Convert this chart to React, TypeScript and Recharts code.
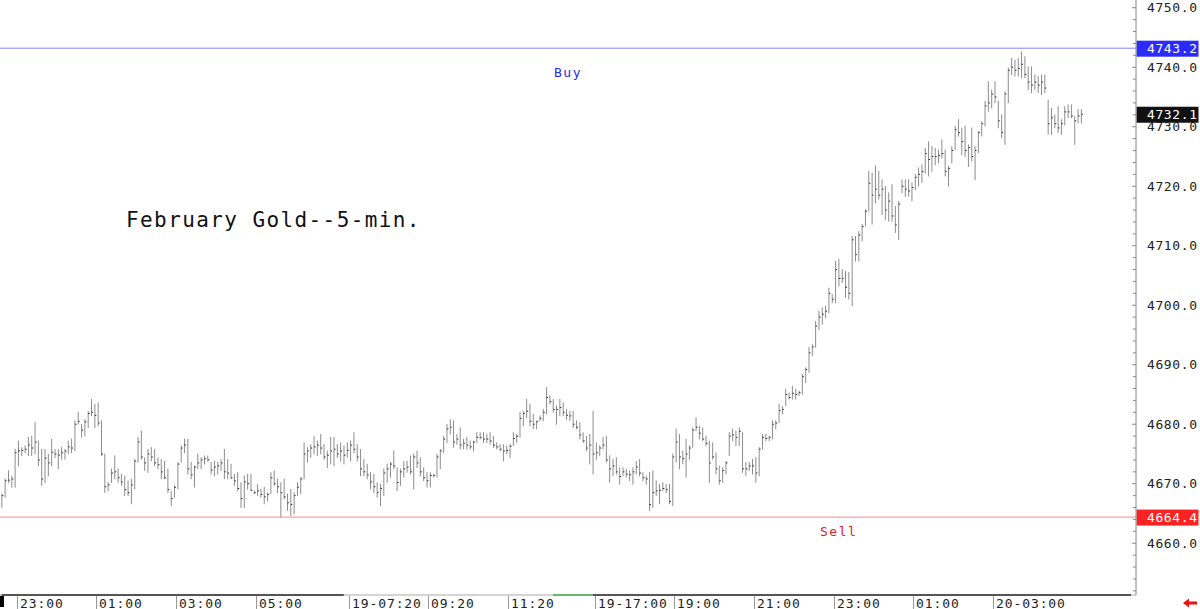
import React from 'react';
import { ComposedChart, Bar, XAxis, YAxis, ReferenceLine } from 'recharts';

// ---- data (5-minute bars) ----
const highs: number[] = [
  4668.3, 4670.8, 4672.2, 4671.3, 4675.8, 4677.2, 4676.1, 4676.4, 4677.8, 4678.0,
  4680.3, 4677.2, 4675.8, 4675.8, 4675.0, 4677.5, 4675.8, 4675.8, 4676.1, 4675.8,
  4677.2, 4677.5, 4680.6, 4682.0, 4680.0, 4680.8, 4682.2, 4684.2, 4683.4, 4683.6,
  4680.6, 4675.0, 4670.2, 4672.5, 4674.7, 4672.5, 4671.6, 4671.3, 4670.5, 4670.8,
  4674.1, 4677.8, 4678.9, 4674.4, 4675.8, 4676.1, 4675.8, 4674.4, 4674.1, 4673.8,
  4672.5, 4668.8, 4669.7, 4673.6, 4676.4, 4677.5, 4677.5, 4673.6, 4673.0, 4675.0,
  4674.4, 4674.7, 4674.7, 4673.6, 4673.8, 4673.6, 4674.1, 4675.8, 4674.1, 4673.3,
  4671.6, 4671.9, 4670.2, 4671.3, 4671.6, 4671.6, 4668.8, 4669.9, 4669.1, 4669.4,
  4668.5,
  4671.9, 4672.2, 4670.8, 4670.2, 4670.8, 4668.3, 4669.1, 4668.5, 4670.2, 4671.1,
  4676.9, 4676.1, 4676.6, 4678.0, 4677.2, 4678.3, 4676.6, 4675.5, 4677.8, 4677.8,
  4676.6, 4676.9, 4676.4, 4676.9, 4677.2, 4678.6, 4676.6, 4675.8, 4674.1, 4673.3,
  4671.9, 4671.6, 4670.2, 4669.9, 4672.5, 4673.3, 4673.6, 4675.5, 4672.7, 4672.5,
  4673.8, 4673.8, 4674.7, 4675.0, 4675.5, 4674.4, 4672.7, 4671.9, 4671.9, 4671.6,
  4675.0, 4675.8, 4678.0, 4680.0, 4680.8, 4680.6, 4678.3, 4679.4, 4677.5, 4677.8,
  4677.2, 4677.2, 4678.6, 4678.6, 4678.6, 4678.3, 4678.6, 4678.0, 4676.9, 4676.6,
  4676.6, 4676.4, 4676.6, 4678.6, 4678.3, 4682.0, 4682.2, 4684.2, 4683.4, 4681.7,
  4680.6, 4681.4, 4682.5,
  4686.2, 4684.8, 4684.2, 4683.1, 4684.2, 4683.6, 4682.5, 4682.2, 4682.2, 4680.6,
  4680.3, 4678.6, 4678.0, 4678.3, 4682.2, 4676.9, 4676.4, 4677.8, 4678.0, 4674.7,
  4674.1, 4674.4, 4672.7, 4672.7, 4672.5, 4672.2, 4672.7, 4673.8, 4674.1, 4671.9,
  4671.3, 4671.9, 4672.2, 4670.5, 4669.9, 4670.2, 4669.9, 4669.9, 4675.0, 4679.2,
  4678.3, 4675.5, 4677.5, 4676.4, 4679.4, 4681.1, 4679.7, 4679.4, 4678.0, 4677.2,
  4676.9, 4675.2, 4673.0, 4672.7, 4673.8, 4678.6, 4679.2, 4678.9, 4679.4, 4678.6,
  4673.6, 4673.6, 4674.1, 4674.4, 4676.1, 4678.3, 4678.3, 4678.0, 4680.6, 4680.6,
  4683.4, 4683.0, 4685.9, 4685.3, 4686.4, 4685.9, 4685.6, 4688.4, 4689.5, 4692.9,
  4693.4, 4697.3,
  4699.0, 4699.6, 4699.9, 4702.9, 4701.8, 4707.4, 4707.7, 4706.0, 4705.7, 4705.5,
  4711.6, 4711.6, 4712.4, 4713.6, 4716.1, 4722.5, 4722.2, 4723.4, 4722.5, 4721.1,
  4720.0, 4718.9, 4720.3, 4716.6, 4717.5, 4721.1, 4721.1, 4721.1, 4720.6, 4722.0,
  4723.1, 4723.6, 4726.4, 4727.5, 4726.7, 4726.4, 4726.1, 4727.8, 4726.1, 4723.4,
  4726.7, 4730.1, 4731.2, 4729.8, 4730.1, 4727.0, 4729.8, 4726.7, 4729.2, 4730.9,
  4734.3, 4737.6, 4736.2, 4737.6, 4734.3, 4732.0, 4735.9, 4739.9, 4741.5, 4741.2,
  4741.5, 4742.6, 4741.8, 4740.1, 4740.1, 4738.7, 4738.5, 4738.7, 4738.7, 4734.5,
  4733.1, 4732.0, 4733.4, 4731.2, 4733.4, 4733.7, 4733.7, 4731.7, 4732.9, 4732.9,
];

const lows: number[] = [
  4666.0, 4667.7, 4670.2, 4669.4, 4669.4, 4673.0, 4674.7, 4675.2, 4674.7, 4674.7,
  4675.0, 4673.0, 4669.7, 4670.2, 4671.3, 4673.0, 4674.4, 4672.5, 4674.1, 4674.1,
  4675.0, 4675.2, 4675.5, 4680.0, 4677.8, 4678.0, 4679.4, 4681.4, 4679.4, 4679.7,
  4674.7, 4668.5, 4668.8, 4670.2, 4670.8, 4670.2, 4669.7, 4668.0, 4668.0, 4666.6,
  4669.1, 4673.6, 4674.1, 4672.2, 4671.9, 4673.8, 4673.0, 4672.5, 4670.8, 4670.8,
  4668.5, 4666.3, 4667.7, 4669.1, 4673.6, 4675.2, 4671.6, 4670.8, 4669.4, 4672.5,
  4672.5, 4673.3, 4673.8, 4671.6, 4671.3, 4671.6, 4672.2, 4670.8, 4670.8, 4670.8,
  4669.7, 4668.8, 4666.0, 4666.0, 4669.1, 4668.8, 4668.3, 4668.0, 4667.7, 4666.6,
  4667.1,
  4668.3, 4669.7, 4668.5, 4664.3, 4667.4, 4665.5, 4664.6, 4664.9, 4668.0, 4668.3,
  4670.8, 4673.6, 4674.4, 4675.0, 4674.7, 4675.0, 4674.1, 4672.7, 4673.3, 4673.0,
  4674.4, 4673.8, 4673.3, 4674.4, 4673.8, 4675.2, 4673.8, 4671.3, 4671.3, 4670.8,
  4669.1, 4668.5, 4667.7, 4666.3, 4668.0, 4670.2, 4671.1, 4672.5, 4668.8, 4669.7,
  4671.1, 4671.9, 4671.6, 4669.1, 4672.7, 4671.3, 4670.5, 4669.4, 4669.4, 4671.1,
  4671.1, 4672.5, 4675.2, 4676.9, 4678.3, 4676.1, 4676.6, 4675.8, 4675.8, 4675.8,
  4675.8, 4675.5, 4676.9, 4677.5, 4676.9, 4676.9, 4676.6, 4676.1, 4675.8, 4675.5,
  4673.8, 4675.0, 4674.4, 4676.4, 4676.9, 4677.8, 4679.7, 4681.1, 4679.7, 4679.2,
  4679.2, 4680.6, 4680.6,
  4681.7, 4683.4, 4682.0, 4680.0, 4681.4, 4681.4, 4680.8, 4680.6, 4679.4, 4679.2,
  4677.5, 4676.9, 4675.5, 4673.3, 4671.6, 4674.1, 4674.7, 4675.8, 4673.6, 4670.2,
  4671.3, 4671.6, 4669.9, 4671.3, 4671.1, 4670.5, 4669.9, 4671.6, 4671.3, 4670.5,
  4669.9, 4665.5, 4666.0, 4668.0, 4666.6, 4668.8, 4668.5, 4666.6, 4666.3, 4673.6,
  4672.5, 4673.3, 4671.1, 4674.1, 4676.1, 4678.9, 4677.5, 4677.2, 4676.4, 4670.2,
  4674.1, 4671.6, 4669.9, 4670.2, 4671.6, 4674.7, 4677.2, 4676.4, 4676.4, 4671.9,
  4671.3, 4672.2, 4671.6, 4670.2, 4671.3, 4675.8, 4677.2, 4677.2, 4677.5, 4679.2,
  4680.3, 4681.7, 4683.1, 4684.2, 4684.2, 4684.2, 4684.8, 4685.0, 4687.0, 4688.7,
  4691.5, 4692.9,
  4695.9, 4696.8, 4697.9, 4698.7, 4700.4, 4700.4, 4703.2, 4703.8, 4701.3, 4701.0,
  4699.9, 4707.4, 4707.4, 4710.8, 4713.3, 4715.8, 4713.6, 4717.2, 4717.8, 4715.2,
  4714.4, 4714.1, 4714.1, 4712.2, 4711.0, 4718.9, 4718.3, 4718.3, 4717.5, 4719.4,
  4720.0, 4720.6, 4722.2, 4721.7, 4722.5, 4723.6, 4723.9, 4724.7, 4721.7, 4720.0,
  4723.9, 4726.1, 4728.4, 4725.3, 4725.0, 4723.3, 4724.2, 4721.1, 4725.6, 4728.4,
  4730.1, 4732.6, 4733.1, 4734.0, 4729.8, 4728.1, 4727.0, 4734.0, 4738.7, 4738.5,
  4738.5, 4738.2, 4738.2, 4736.2, 4735.7, 4736.2, 4735.7, 4735.4, 4735.7, 4728.7,
  4728.7, 4729.8, 4729.0, 4728.7, 4730.3, 4731.5, 4731.5, 4727.0, 4730.6, 4730.6,
];

const closes: number[] = [
  4668.0, 4670.5, 4670.6, 4670.8, 4675.2, 4675.5, 4675.6, 4675.8, 4676.5, 4676.0,
  4677.0, 4674.0, 4670.8, 4674.3, 4673.5, 4675.3, 4675.0, 4674.8, 4675.2, 4675.5,
  4676.2, 4676.0, 4680.0, 4680.5, 4679.0, 4680.4, 4681.8, 4682.0, 4681.5, 4680.2,
  4675.0, 4669.5, 4669.8, 4671.8, 4672.0, 4671.0, 4670.3, 4669.0, 4668.5, 4669.8,
  4673.8, 4677.0, 4674.5, 4673.5, 4675.0, 4674.5, 4673.5, 4673.2, 4672.0, 4671.0,
  4669.0, 4667.5, 4669.4, 4673.3, 4676.0, 4676.5, 4672.5, 4671.5, 4672.8, 4673.5,
  4674.0, 4674.2, 4674.0, 4672.3, 4672.8, 4673.0, 4673.5, 4672.0, 4671.8, 4671.0,
  4670.5, 4669.2, 4667.5, 4670.3, 4670.0, 4668.9, 4668.5, 4668.8, 4668.2, 4667.8,
  4668.2,
  4671.0, 4670.0, 4669.5, 4668.5, 4667.8, 4666.8, 4666.5, 4668.0, 4669.4, 4670.8,
  4675.0, 4675.5, 4676.0, 4676.2, 4676.5, 4676.0, 4674.5, 4674.8, 4675.5, 4675.8,
  4675.0, 4675.5, 4674.8, 4675.6, 4676.5, 4675.8, 4674.5, 4672.5, 4672.0, 4671.5,
  4670.3, 4669.5, 4668.5, 4669.2, 4671.8, 4672.5, 4673.3, 4673.0, 4670.2, 4672.0,
  4672.5, 4672.8, 4672.0, 4674.5, 4673.5, 4672.0, 4671.0, 4670.5, 4671.4, 4671.4,
  4674.5, 4675.5, 4677.5, 4679.2, 4679.5, 4677.0, 4677.5, 4676.5, 4676.8, 4676.5,
  4676.2, 4677.0, 4677.8, 4677.8, 4677.5, 4677.5, 4677.2, 4676.5, 4676.2, 4675.8,
  4675.5, 4675.6, 4676.3, 4677.6, 4678.0, 4681.0, 4681.8, 4682.2, 4680.5, 4680.0,
  4680.4, 4681.0, 4682.0,
  4684.5, 4683.8, 4682.5, 4682.5, 4682.8, 4682.0, 4681.5, 4681.4, 4680.0, 4679.5,
  4678.2, 4677.2, 4676.0, 4676.5, 4675.0, 4675.2, 4676.0, 4676.5, 4674.0, 4672.5,
  4673.0, 4672.0, 4671.2, 4672.0, 4671.6, 4671.5, 4672.0, 4672.8, 4671.8, 4671.0,
  4670.8, 4666.5, 4668.5, 4668.8, 4668.9, 4669.2, 4669.0, 4667.0, 4674.5, 4677.0,
  4674.5, 4674.2, 4675.0, 4676.0, 4679.0, 4679.5, 4678.5, 4677.5, 4676.8, 4673.5,
  4674.5, 4672.5, 4670.5, 4672.2, 4673.5, 4678.0, 4678.2, 4677.8, 4678.8, 4672.5,
  4672.5, 4673.0, 4673.0, 4671.8, 4675.8, 4677.8, 4677.6, 4677.8, 4680.0, 4680.2,
  4682.3, 4682.5, 4685.0, 4684.5, 4685.2, 4685.0, 4685.3, 4688.0, 4689.2, 4692.0,
  4693.0, 4696.5,
  4698.0, 4698.5, 4699.0, 4702.0, 4701.0, 4706.0, 4704.5, 4704.5, 4703.0, 4702.0,
  4711.0, 4708.5, 4711.8, 4713.2, 4715.8, 4720.5, 4718.5, 4719.5, 4718.5, 4719.5,
  4716.0, 4717.5, 4715.0, 4713.5, 4717.0, 4720.0, 4719.5, 4719.2, 4719.8, 4721.5,
  4722.0, 4722.5, 4725.5, 4724.5, 4725.0, 4725.0, 4725.2, 4725.5, 4722.5, 4723.0,
  4726.0, 4729.5, 4729.0, 4727.5, 4726.0, 4726.5, 4725.0, 4726.0, 4729.0, 4730.5,
  4733.5, 4734.0, 4735.5, 4735.0, 4731.0, 4729.0, 4735.5, 4739.5, 4740.0, 4739.5,
  4739.8, 4740.5, 4738.8, 4737.5, 4737.0, 4737.5, 4737.0, 4737.5, 4736.5, 4730.5,
  4731.5, 4730.5, 4729.8, 4730.5, 4732.5, 4732.5, 4731.8, 4731.0, 4731.8, 4732.1,
];

// time-axis labels and the bar index where each one starts
const tickIndex: number[] = [5, 29, 53, 77, 105, 129, 153, 179, 203, 227, 251, 275, 299];
const tickLabels: string[] = [
  '23:00', '01:00', '03:00', '05:00', '19-07:20', '09:20', '11:20',
  '19-17:00', '19:00', '21:00', '23:00', '01:00', '20-03:00',
];

// price axis
const majorTicks: number[] = [4660, 4670, 4680, 4690, 4700, 4710, 4720, 4730, 4740, 4750];
const minorTicks: number[] = [
  4652, 4654, 4656, 4658, 4662, 4664, 4666, 4668, 4672, 4674, 4676, 4678,
  4682, 4684, 4686, 4688, 4692, 4694, 4696, 4698, 4702, 4704, 4706, 4708,
  4712, 4714, 4716, 4718, 4722, 4724, 4726, 4728, 4732, 4734, 4736, 4738,
  4742, 4744, 4746, 4748,
];

const buyLevel = 4743.2;
const sellLevel = 4664.4;
const title = 'February Gold--5-min.';

// ---- layout ----
const W = 1200;
const H = 609;
const SLOTS = 342; // bars + empty space on the right
const Y_MIN = 4651.3;
const Y_MAX = 4751.3;
const MONO = '"DejaVu Sans Mono", "Liberation Mono", monospace';

const rows = Array.from({ length: SLOTS }, (_, i) => ({
  idx: i,
  hl: i < highs.length ? [lows[i], highs[i]] : null,
  close: i < closes.length ? closes[i] : null,
}));
const lastClose = closes[closes.length - 1];
const allYTicks = [...minorTicks, ...majorTicks].sort((a, b) => a - b);

const BarShape = (props: any) => {
  const { x, y, width, height, payload } = props;
  if (!payload || !payload.hl || x == null || y == null) return <g />;
  const top = Math.min(y, y + height);
  const bot = Math.max(y, y + height);
  const cx = x + width / 2;
  const [lo, hi] = payload.hl;
  const cy = hi === lo ? top : top + ((hi - payload.close) / (hi - lo)) * (bot - top);
  return (
    <g>
      <line x1={cx} x2={cx} y1={top - 0.3} y2={bot + 0.3} stroke="#8c8c8c" strokeWidth={1} />
      <line x1={cx} x2={cx + 1.5} y1={cy} y2={cy} stroke="#333" strokeWidth={1} />
    </g>
  );
};

const XTick = (props: any) => {
  const { x, y, payload } = props;
  const k = tickIndex.indexOf(Number(payload.value));
  if (k < 0) return <g />;
  const off = payload.offset != null ? payload.offset : 1136 / SLOTS / 2;
  const sx = Math.round(x - off) + 0.5;
  return (
    <g>
      <line x1={sx} x2={sx} y1={y + 1} y2={y + 14} stroke="#999" strokeWidth={1} />
      <text x={sx + 2.5} y={y + 12.5} fontFamily={MONO} fontSize={13} letterSpacing={0.9} fill="#222">
        {tickLabels[k]}
      </text>
    </g>
  );
};

const YTick = (props: any) => {
  const { x, y, payload } = props;
  const v = Number(payload.value);
  const major = majorTicks.includes(v);
  return (
    <g>
      <line x1={x - (major ? 4 : 3)} x2={x} y1={y} y2={y} stroke="#888" strokeWidth={1} />
      {major && (
        <text x={x + 11} y={y + 4.5} fontFamily={MONO} fontSize={13} letterSpacing={0.6} fill="#222">
          {v.toFixed(1)}
        </text>
      )}
    </g>
  );
};

const makeTag =
  (value: number, bg: string, note?: { text: string; color: string; at: number | 'center'; dy: number }) =>
  (props: any) => {
    const vb = props.viewBox || {};
    const ly = Number(vb.y);
    const left = Number(vb.x);
    const right = left + Number(vb.width);
    if (!isFinite(ly) || !isFinite(right)) return null;
    return (
      <g>
        <rect x={right + 0.5} y={ly - 7.5} width={62} height={16} fill={bg} />
        <text x={right + 11} y={ly + 5} fontFamily={MONO} fontSize={13} letterSpacing={0.6} fill="#fff">
          {value.toFixed(1)}
        </text>
        {note && (
          <text
            x={note.at === 'center' ? (left + right) / 2 : left + note.at}
            y={ly + note.dy}
            textAnchor={note.at === 'center' ? 'middle' : 'start'}
            fontFamily={MONO}
            fontSize={13}
            letterSpacing={1.5}
            fill={note.color}
          >
            {note.text}
          </text>
        )}
      </g>
    );
  };

export default function App() {
  return (
    <div style={{ position: 'absolute', left: 0, top: 0, width: W, height: H, background: '#fff', overflow: 'hidden' }}>
      <ComposedChart width={W} height={H} data={rows} margin={{ top: 0, right: 0, bottom: 0, left: 0 }}>
        <XAxis
          dataKey="idx"
          type="category"
          height={14}
          ticks={tickIndex}
          interval={0}
          tickSize={0}
          tickMargin={0}
          tickLine={false}
          axisLine={{ stroke: '#aaa', strokeWidth: 1 }}
          tick={<XTick />}
        />
        <YAxis
          orientation="right"
          type="number"
          width={64}
          domain={[Y_MIN, Y_MAX]}
          allowDataOverflow
          ticks={allYTicks}
          interval={0}
          tickSize={0}
          tickMargin={0}
          tickLine={false}
          axisLine={{ stroke: '#888', strokeWidth: 1 }}
          tick={<YTick />}
        />
        <ReferenceLine
          segment={[{ x: 0, y: Y_MIN }, { x: 103, y: Y_MIN }]}
          stroke="#000"
          strokeWidth={2}
          ifOverflow="visible"
        />
        <ReferenceLine
          segment={[{ x: 166, y: Y_MIN }, { x: 178, y: Y_MIN }]}
          stroke="#22cc22"
          strokeWidth={2}
          ifOverflow="visible"
        />
        <ReferenceLine
          segment={[{ x: 178, y: Y_MIN }, { x: 340, y: Y_MIN }]}
          stroke="#000"
          strokeWidth={2}
          ifOverflow="visible"
        />
        <Bar dataKey="hl" isAnimationActive={false} shape={<BarShape />} />
        <ReferenceLine
          y={buyLevel}
          stroke="#7f7fff"
          strokeWidth={1}
          label={makeTag(buyLevel, '#2b2bff', { text: 'Buy', color: '#2a2ae8', at: 'center', dy: 29 })}
        />
        <ReferenceLine
          y={sellLevel}
          stroke="#f5a3a3"
          strokeWidth={1.3}
          label={makeTag(sellLevel, '#ff2222', { text: 'Sell', color: '#e02020', at: 820, dy: 18.5 })}
        />
        <ReferenceLine y={lastClose} stroke="transparent" label={makeTag(lastClose, '#111')} />
      </ComposedChart>
      <svg
        width={W}
        height={H}
        style={{ position: 'absolute', left: 0, top: 0, pointerEvents: 'none' }}
      >
        <text x={126} y={227} fontFamily={MONO} fontSize={21} letterSpacing={1.4} fill="#111">
          {title}
        </text>
        <rect x={0} y={596} width={4} height={11} fill="#000" />
        <polygon
          points="1183,603 1189,598.5 1189,601.5 1197,601.5 1197,604.5 1189,604.5 1189,607.5"
          fill="#ee1111"
        />
      </svg>
    </div>
  );
}
